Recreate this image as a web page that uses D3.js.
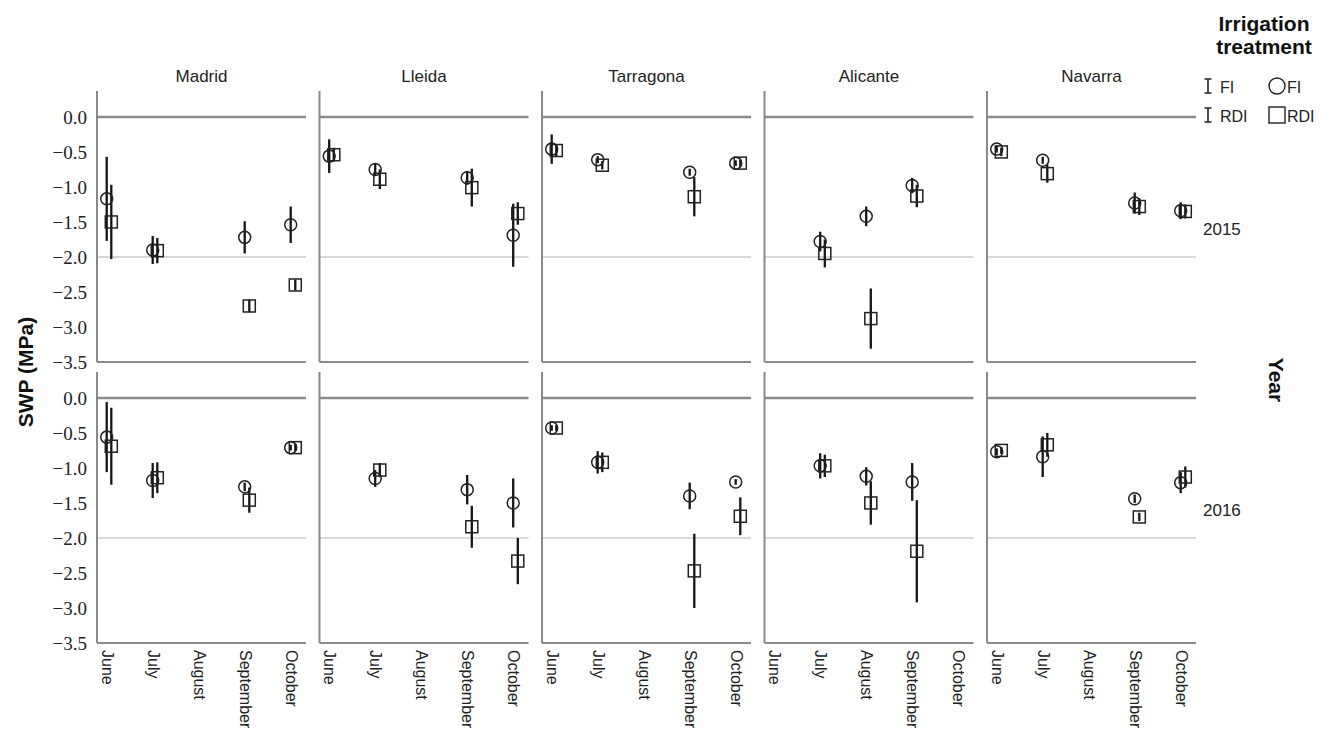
<!DOCTYPE html>
<html>
<head>
<meta charset="utf-8">
<script src="https://cdn.jsdelivr.net/npm/d3@7"></script>
<style>
  body { margin: 0; background: #fff; }
  svg { display: block; }
</style>
</head>
<body>
<svg id="chart" width="1341" height="733"></svg>
<script>
const sites = ["Madrid", "Lleida", "Tarragona", "Alicante", "Navarra"];
const months = ["June", "July", "August", "September", "October"];
const years = ["2015", "2016"];
const yTicks = [0.0, -0.5, -1.0, -1.5, -2.0, -2.5, -3.0, -3.5];

// mean SWP per site (rows) and month (June..October), null = not measured
const fi2015 = [
  [-1.17, -1.90, null, -1.72, -1.54],
  [-0.56, -0.75, null, -0.87, -1.69],
  [-0.46, -0.61, null, -0.79, -0.66],
  [null, -1.78, -1.42, -0.98, null],
  [-0.46, -0.62, null, -1.23, -1.34]
];
const rdi2015 = [
  [-1.50, -1.91, null, -2.70, -2.40],
  [-0.54, -0.89, null, -1.01, -1.38],
  [-0.48, -0.69, null, -1.14, -0.66],
  [null, -1.95, -2.88, -1.13, null],
  [-0.50, -0.81, null, -1.28, -1.35]
];
const fi2016 = [
  [-0.56, -1.18, null, -1.27, -0.71],
  [null, -1.15, null, -1.31, -1.50],
  [-0.43, -0.92, null, -1.40, -1.20],
  [null, -0.97, -1.12, -1.20, null],
  [-0.77, -0.84, null, -1.44, -1.21]
];
const rdi2016 = [
  [-0.69, -1.14, null, -1.46, -0.71],
  [null, -1.03, null, -1.84, -2.33],
  [-0.43, -0.92, null, -2.47, -1.69],
  [null, -0.97, -1.50, -2.19, null],
  [-0.75, -0.67, null, -1.70, -1.13]
];

// half width of the error bars
const fi2015Err = [
  [0.60, 0.20, null, 0.23, 0.26],
  [0.24, 0.08, null, 0.10, 0.45],
  [0.21, 0.05, null, 0.05, 0.04],
  [null, 0.14, 0.14, 0.11, null],
  [0.05, 0.05, null, 0.15, 0.12]
];
const rdi2015Err = [
  [0.53, 0.18, null, 0.09, 0.08],
  [0.10, 0.14, null, 0.27, 0.16],
  [0.08, 0.06, null, 0.28, 0.05],
  [null, 0.20, 0.43, 0.16, null],
  [0.06, 0.13, null, 0.12, 0.10]
];
const fi2016Err = [
  [0.50, 0.25, null, 0.06, 0.04],
  [null, 0.12, null, 0.21, 0.35],
  [0.04, 0.16, null, 0.19, 0.04],
  [null, 0.18, 0.13, 0.27, null],
  [0.05, 0.29, null, 0.06, 0.15]
];
const rdi2016Err = [
  [0.55, 0.22, null, 0.18, 0.05],
  [null, 0.10, null, 0.30, 0.33],
  [0.04, 0.14, null, 0.53, 0.27],
  [null, 0.16, 0.31, 0.73, null],
  [0.05, 0.17, null, 0.06, 0.15]
];

// build one flat list of records from the arrays above
const series = [
  { year: "2015", trt: "FI", mean: fi2015, err: fi2015Err },
  { year: "2015", trt: "RDI", mean: rdi2015, err: rdi2015Err },
  { year: "2016", trt: "FI", mean: fi2016, err: fi2016Err },
  { year: "2016", trt: "RDI", mean: rdi2016, err: rdi2016Err }
];
const records = [];
series.forEach(s => {
  sites.forEach((site, i) => {
    months.forEach((m, j) => {
      if (s.mean[i][j] === null) return;
      records.push({ year: s.year, trt: s.trt, site, month: m, value: s.mean[i][j], err: s.err[i][j] });
    });
  });
});

const svg = d3.select("#chart");

const panelLeft = 97, panelStep = 222.5, panelW = 209;
const rowTop = { "2015": 91, "2016": 372 };
const rowBottom = { "2015": 362, "2016": 643 };

const xPanel = d3.scaleBand().domain(sites).range([panelLeft, panelLeft + panelStep * 5]);
const xMonth = d3.scalePoint().domain(months).range([12, 196]);
const yScales = {};
years.forEach(y => {
  yScales[y] = d3.scaleLinear().domain([-3.5, 0.37]).range([rowBottom[y], rowTop[y]]);
});
const dodge = { FI: -2.3, RDI: 2.3 };

const axisColor = "#8a8a8a";

years.forEach(year => {
  const y = yScales[year];
  sites.forEach((site, si) => {
    const g = svg.append("g").attr("transform", `translate(${xPanel(site)},0)`);

    // light reference line at -2 and dark one at 0
    g.append("line")
      .attr("x1", 0).attr("x2", panelW)
      .attr("y1", y(-2)).attr("y2", y(-2))
      .attr("stroke", "#d8d8d8").attr("stroke-width", 2);
    g.append("line")
      .attr("x1", 0).attr("x2", panelW)
      .attr("y1", y(0)).attr("y2", y(0))
      .attr("stroke", axisColor).attr("stroke-width", 2.5);

    // frame: left and bottom
    g.append("line")
      .attr("x1", 0).attr("x2", 0)
      .attr("y1", rowTop[year]).attr("y2", rowBottom[year])
      .attr("stroke", axisColor).attr("stroke-width", 2);
    g.append("line")
      .attr("x1", 0).attr("x2", panelW)
      .attr("y1", rowBottom[year]).attr("y2", rowBottom[year])
      .attr("stroke", axisColor).attr("stroke-width", 2);

    const pts = records.filter(d => d.year === year && d.site === site);

    // error bars
    g.selectAll(".bar")
      .data(pts)
      .enter()
      .append("line")
      .attr("class", "bar")
      .attr("x1", d => xMonth(d.month) + dodge[d.trt])
      .attr("x2", d => xMonth(d.month) + dodge[d.trt])
      .attr("y1", d => y(d.value + d.err))
      .attr("y2", d => y(d.value - d.err))
      .attr("stroke", "#151515").attr("stroke-width", 2.3);

    // markers
    g.selectAll(".fi")
      .data(pts.filter(d => d.trt === "FI"))
      .enter()
      .append("circle")
      .attr("class", "fi")
      .attr("cx", d => xMonth(d.month) + dodge.FI)
      .attr("cy", d => y(d.value))
      .attr("r", 6)
      .attr("fill", "none").attr("stroke", "#222").attr("stroke-width", 1.5);
    g.selectAll(".rdi")
      .data(pts.filter(d => d.trt === "RDI"))
      .enter()
      .append("rect")
      .attr("class", "rdi")
      .attr("x", d => xMonth(d.month) + dodge.RDI - 6)
      .attr("y", d => y(d.value) - 6)
      .attr("width", 12).attr("height", 12)
      .attr("fill", "none").attr("stroke", "#222").attr("stroke-width", 1.5);

    // month labels under the bottom row
    if (year === "2016") {
      g.selectAll(".month")
        .data(months)
        .enter()
        .append("text")
        .attr("class", "month")
        .attr("transform", d => `translate(${xMonth(d) - 2},${rowBottom[year] + 7}) rotate(90)`)
        .attr("dominant-baseline", "central")
        .attr("font-family", "Liberation Sans, Arial, sans-serif")
        .attr("font-size", 16)
        .attr("fill", "#222")
        .text(d => d);
    }

    // site titles over the top row
    if (year === "2015") {
      g.append("text")
        .attr("x", panelW / 2)
        .attr("y", 82)
        .attr("text-anchor", "middle")
        .attr("font-family", "Liberation Sans, Arial, sans-serif")
        .attr("font-size", 17)
        .attr("fill", "#222")
        .text(site);
    }
  });

  // y axis labels on the leftmost panel
  const yAxis = d3.axisLeft(y)
    .tickValues(yTicks)
    .tickSize(0)
    .tickPadding(10)
    .tickFormat(d3.format(".1f"));
  const ga = svg.append("g")
    .attr("transform", `translate(${panelLeft},0)`)
    .call(yAxis);
  ga.select(".domain").remove();
  ga.selectAll("text")
    .attr("font-family", "Liberation Serif, Times New Roman, serif")
    .attr("font-size", 19)
    .attr("fill", "#222");

  // year label on the right
  svg.append("text")
    .attr("x", 1203)
    .attr("y", (rowTop[year] + rowBottom[year]) / 2 + 3)
    .attr("dominant-baseline", "central")
    .attr("font-family", "Liberation Sans, Arial, sans-serif")
    .attr("font-size", 17)
    .attr("fill", "#222")
    .text(year);
});

// axis titles
svg.append("text")
  .attr("transform", "translate(25,372) rotate(-90)")
  .attr("text-anchor", "middle")
  .attr("dominant-baseline", "central")
  .attr("font-family", "Liberation Sans, Arial, sans-serif")
  .attr("font-weight", "bold")
  .attr("font-size", 21)
  .attr("fill", "#111")
  .text("SWP (MPa)");

svg.append("text")
  .attr("transform", "translate(1276,380) rotate(90)")
  .attr("text-anchor", "middle")
  .attr("dominant-baseline", "central")
  .attr("font-family", "Liberation Sans, Arial, sans-serif")
  .attr("font-weight", "bold")
  .attr("font-size", 21)
  .attr("fill", "#111")
  .text("Year");

// legend
const legend = svg.append("g");
["Irrigation", "treatment"].forEach((t, i) => {
  legend.append("text")
    .attr("x", 1264)
    .attr("y", 31 + i * 23)
    .attr("text-anchor", "middle")
    .attr("font-family", "Liberation Sans, Arial, sans-serif")
    .attr("font-weight", "bold")
    .attr("font-size", 21)
    .attr("fill", "#111")
    .text(t);
});
const legendRows = ["FI", "RDI"];
legendRows.forEach((t, i) => {
  const cy = 86 + i * 29;
  // error bar symbol
  legend.append("path")
    .attr("d", `M1204.5,${cy - 7}h7M1208,${cy - 7}v14M1204.5,${cy + 7}h7`)
    .attr("stroke", "#222").attr("stroke-width", 1.6).attr("fill", "none");
  legend.append("text")
    .attr("x", 1220).attr("y", cy + 1)
    .attr("dominant-baseline", "central")
    .attr("font-family", "Liberation Sans, Arial, sans-serif")
    .attr("font-size", 16)
    .attr("fill", "#222")
    .text(t);
  if (t === "FI") {
    legend.append("circle")
      .attr("cx", 1277).attr("cy", cy).attr("r", 8)
      .attr("fill", "none").attr("stroke", "#222").attr("stroke-width", 1.4);
  } else {
    legend.append("rect")
      .attr("x", 1269).attr("y", cy - 8).attr("width", 16).attr("height", 16)
      .attr("fill", "none").attr("stroke", "#222").attr("stroke-width", 1.4);
  }
  legend.append("text")
    .attr("x", 1287).attr("y", cy + 1)
    .attr("dominant-baseline", "central")
    .attr("font-family", "Liberation Sans, Arial, sans-serif")
    .attr("font-size", 16)
    .attr("fill", "#222")
    .text(t);
});
</script>
</body>
</html>
